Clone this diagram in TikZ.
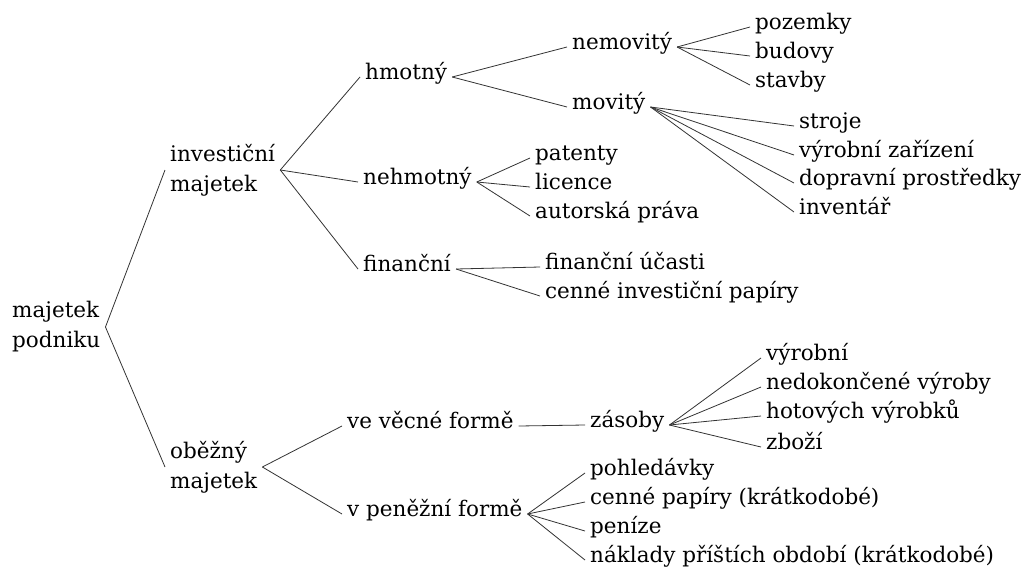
\documentclass[tikz,border=0pt]{standalone}
\usepackage{fontspec}
\setmainfont{DejaVu Serif}
\begin{document}
\begin{tikzpicture}[x=1pt,y=-1pt,
  every node/.style={font=\fontsize{21.5}{30}\selectfont, inner xsep=5pt, inner ysep=0pt, anchor=west, text=black},
  lbl/.style={text height=0.72em, text depth=0.2em},
  two/.style={align=left},
  conn/.style={draw=black!80, line width=0.8pt}]
\useasboundingbox (0,0) rectangle (1025,573);
% nodes
\node[two] (mp) at (7,327) {majetek\\podniku};
\node[two] (im) at (165,170) {investiční\\majetek};
\node[two] (om) at (165,467) {oběžný\\majetek};
\node[lbl] (hm) at (360,77) {hmotný};
\node[lbl] (ne) at (358,182) {nehmotný};
\node[lbl] (fi) at (358,269) {finanční};
\node[lbl] (nm) at (567,47) {nemovitý};
\node[lbl] (mv) at (567,107) {movitý};
\node[lbl] (poz) at (750,27) {pozemky};
\node[lbl] (bud) at (750,56) {budovy};
\node[lbl] (sta) at (750,85) {stavby};
\node[lbl] (str) at (794,126) {stroje};
\node[lbl] (vz) at (794,155) {výrobní zařízení};
\node[lbl] (dp) at (794,183) {dopravní prostředky};
\node[lbl] (inv) at (794,212) {inventář};
\node[lbl] (pat) at (530,158) {patenty};
\node[lbl] (lic) at (530,187) {licence};
\node[lbl] (aut) at (530,216) {autorská práva};
\node[lbl] (fu) at (540,267) {finanční účasti};
\node[lbl] (cip) at (540,296) {cenné investiční papíry};
\node[lbl] (vf) at (342,426) {ve věcné formě};
\node[lbl] (pf) at (342,514) {v peněžní formě};
\node[lbl] (zas) at (585,425) {zásoby};
\node[lbl] (vyr) at (761,358) {výrobní};
\node[lbl] (ned) at (761,387) {nedokončené výroby};
\node[lbl] (hot) at (761,416) {hotových výrobků};
\node[lbl] (zbo) at (761,447) {zboží};
\node[lbl] (poh) at (585,473) {pohledávky};
\node[lbl] (cp) at (585,502) {cenné papíry (krátkodobé)};
\node[lbl] (pen) at (585,531) {peníze};
\node[lbl] (nak) at (585,560) {náklady příštích období (krátkodobé)};
% connectors
\foreach \c in {im,om} \draw[conn] (mp.east) -- (\c.west);
\foreach \c in {hm,ne,fi} \draw[conn] (im.east) -- (\c.west);
\foreach \c in {nm,mv} \draw[conn] (hm.east) -- (\c.west);
\foreach \c in {poz,bud,sta} \draw[conn] (nm.east) -- (\c.west);
\foreach \c in {str,vz,dp,inv} \draw[conn] (mv.east) -- (\c.west);
\foreach \c in {pat,lic,aut} \draw[conn] (ne.east) -- (\c.west);
\foreach \c in {fu,cip} \draw[conn] (fi.east) -- (\c.west);
\foreach \c in {vf,pf} \draw[conn] (om.east) -- (\c.west);
\draw[conn] (vf.east) -- (zas.west);
\foreach \c in {vyr,ned,hot,zbo} \draw[conn] (zas.east) -- (\c.west);
\foreach \c in {poh,cp,pen,nak} \draw[conn] (pf.east) -- (\c.west);
\end{tikzpicture}
\end{document}
